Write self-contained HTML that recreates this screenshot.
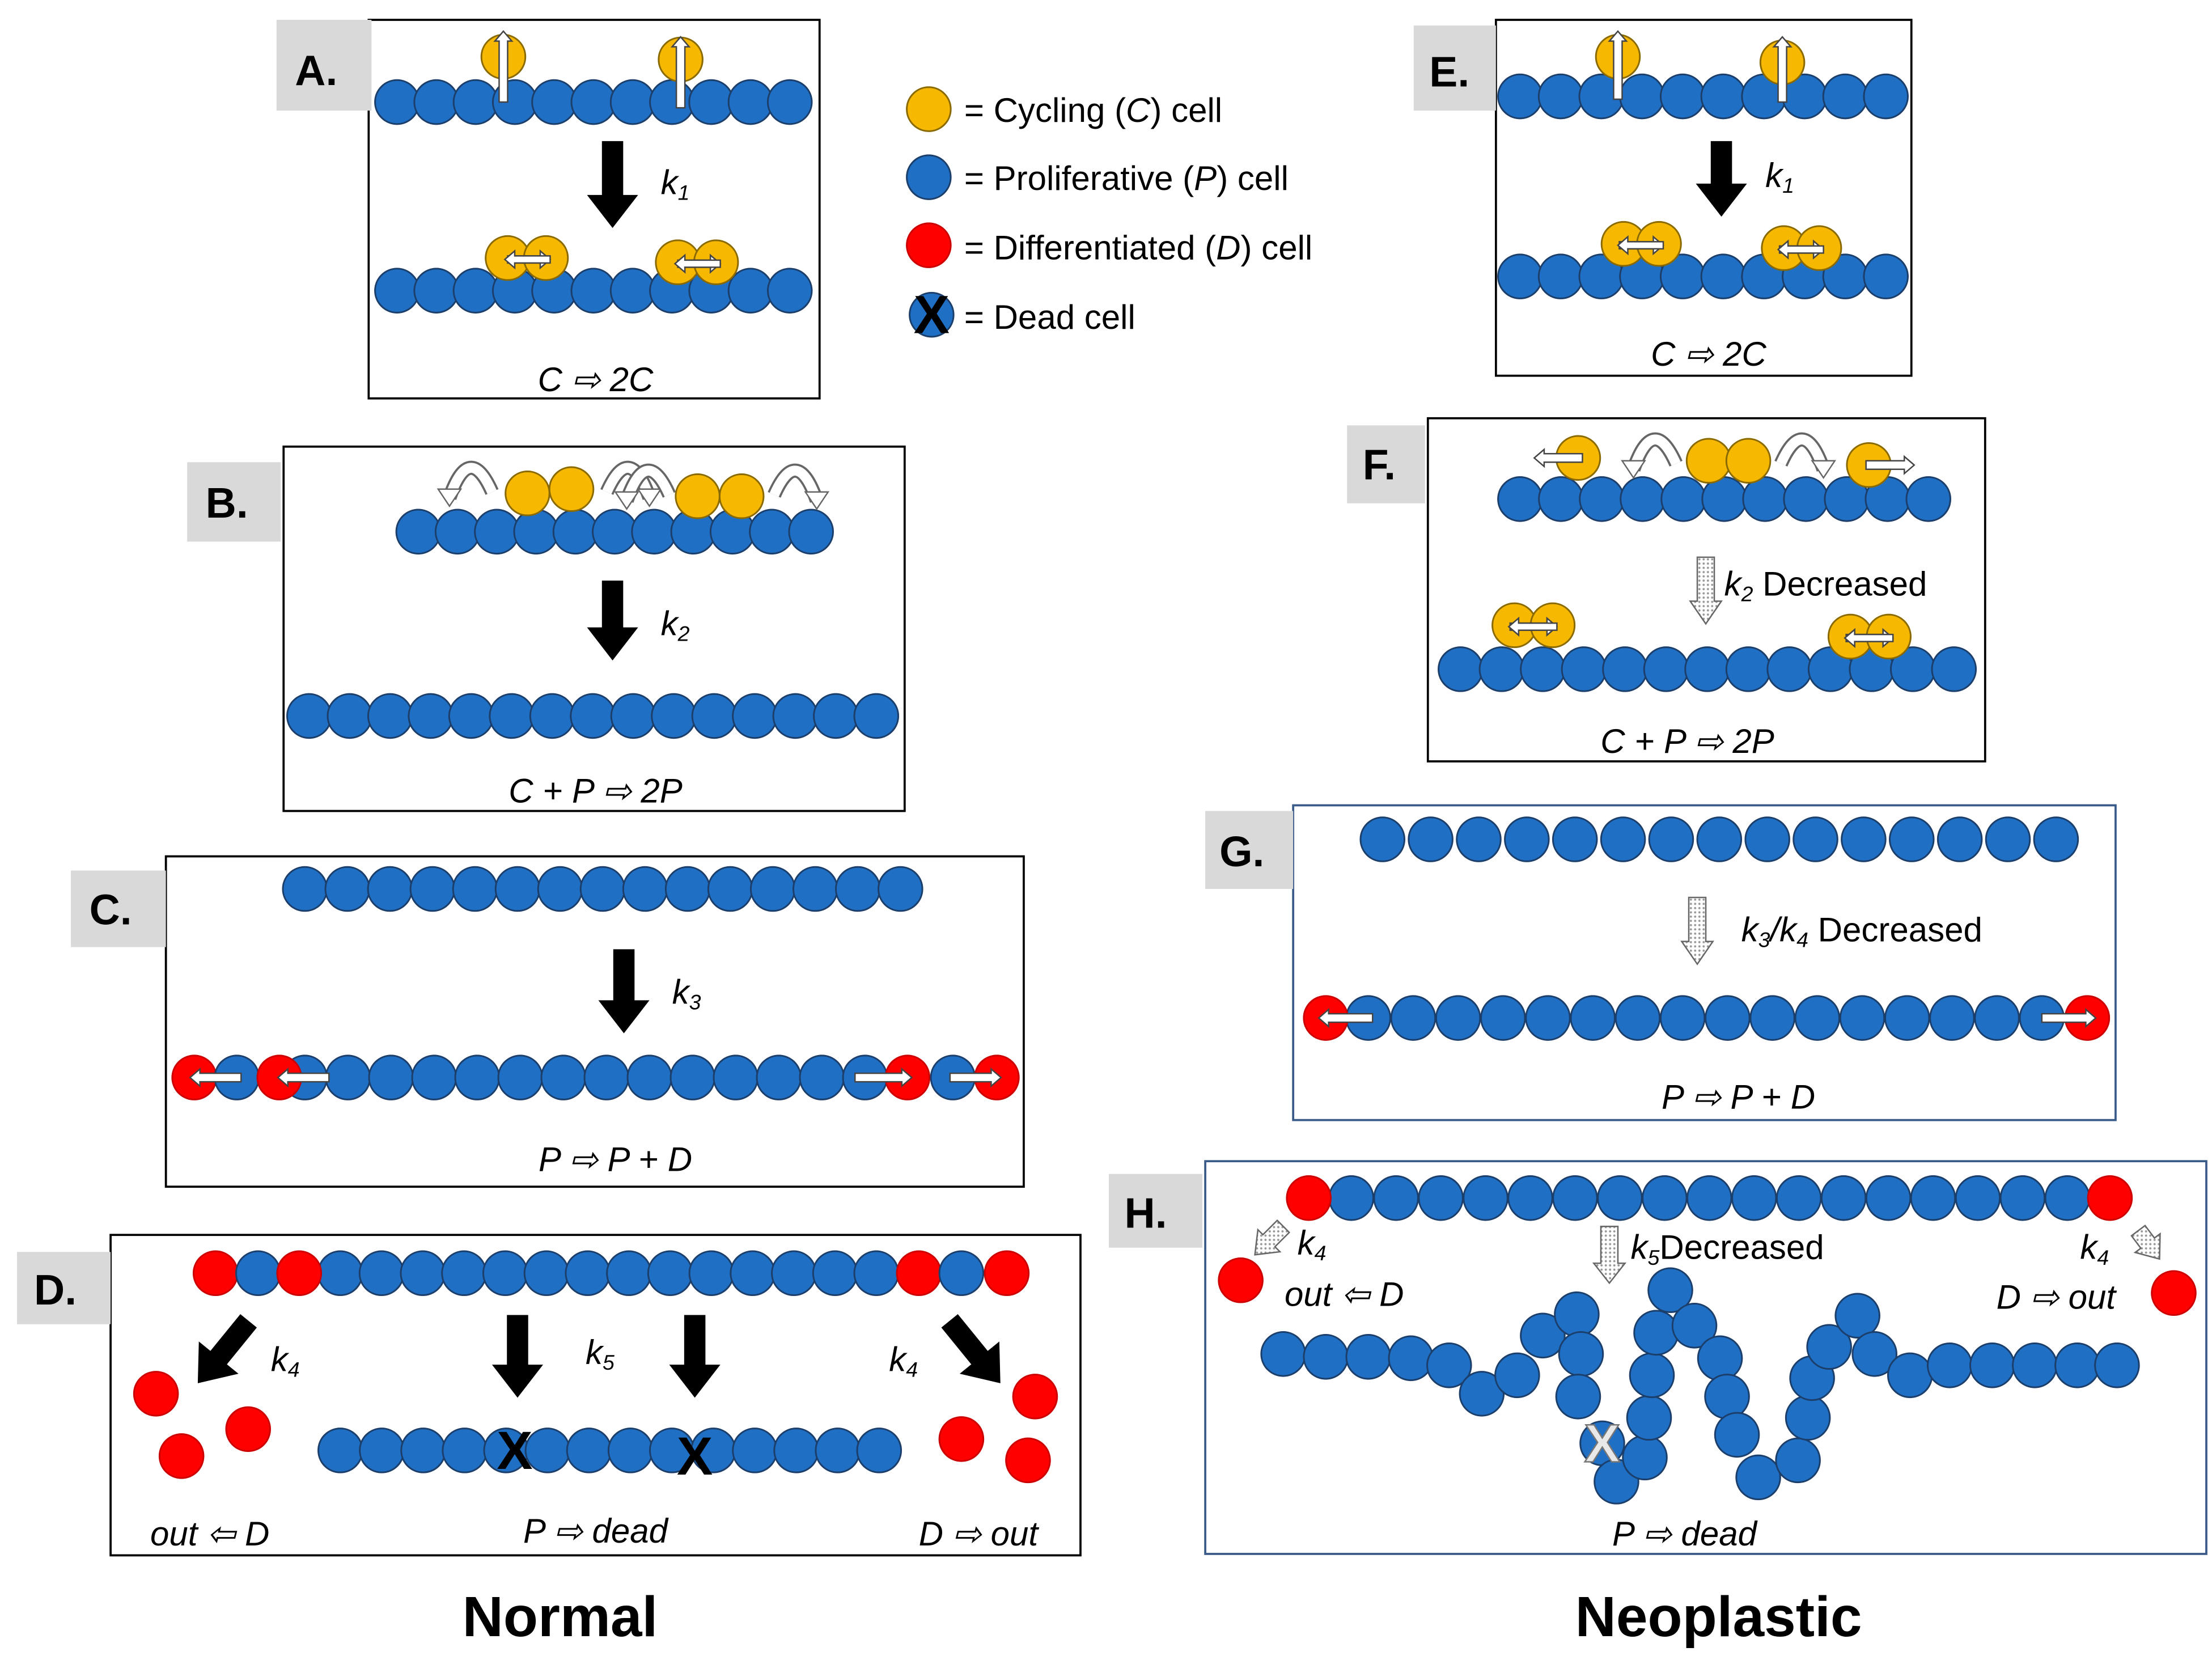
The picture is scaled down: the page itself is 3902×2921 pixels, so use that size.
<!DOCTYPE html>
<html><head><meta charset="utf-8"><style>
html,body{margin:0;padding:0;background:#fff}
svg{display:block}
text{font-family:"Liberation Sans",sans-serif;fill:#000}
.it{font-style:italic;font-size:24px}
.lab{font-weight:bold;font-size:30px}
</style></head><body>
<svg id="s" width="3902" height="2921" viewBox="0 0 1560 1168" preserveAspectRatio="none" xmlns="http://www.w3.org/2000/svg">
<defs>
<pattern id="dot" width="3" height="3" patternUnits="userSpaceOnUse"><rect width="3" height="3" fill="#fff"/><circle cx="1.5" cy="1.5" r="0.8" fill="#999"/></pattern>
</defs>
<g fill="none" stroke="#000" stroke-width="1.5">
<rect x="260" y="14" width="318" height="267"/>
<rect x="200" y="315" width="438" height="257"/>
<rect x="117" y="604" width="605" height="233"/>
<rect x="78" y="871" width="684" height="226"/>
<rect x="1055" y="14" width="293" height="251"/>
<rect x="1007" y="295" width="393" height="242"/>
<rect x="912" y="568" width="580" height="222" stroke="#3a5a8a"/>
<rect x="850" y="819" width="706" height="277" stroke="#3a5a8a"/>
</g>
<g fill="#d9d9d9">
<rect x="195" y="14" width="67" height="64"/><rect x="132" y="326" width="66" height="56"/>
<rect x="50" y="614" width="67" height="54"/><rect x="12" y="883" width="66" height="51"/>
<rect x="997" y="18" width="58" height="60"/><rect x="950" y="300" width="55" height="55"/>
<rect x="850" y="572" width="62" height="55"/><rect x="782" y="828" width="66" height="52"/>
</g>
<g class="lab">
<text x="208" y="60">A.</text><text x="145" y="365">B.</text><text x="63" y="652">C.</text><text x="24" y="920">D.</text>
<text x="1008" y="61">E.</text><text x="961" y="338">F.</text><text x="860" y="611">G.</text><text x="793" y="866">H.</text>
</g>
<g id="cells"></g>
<g font-size="24">
<text x="680" y="86">= Cycling (<tspan font-style="italic">C</tspan>) cell</text>
<text x="680" y="134">= Proliferative (<tspan font-style="italic">P</tspan>) cell</text>
<text x="680" y="183">= Differentiated (<tspan font-style="italic">D</tspan>) cell</text>
<text x="680" y="232">= Dead cell</text>
</g>
<g class="it" text-anchor="middle">
<text x="420" y="276">C ⇨ 2C</text>
<text x="420" y="566">C + P ⇨ 2P</text>
<text x="434" y="826">P ⇨ P + D</text>
<text x="148" y="1090">out ⇦ D</text>
<text x="420" y="1088">P ⇨ dead</text>
<text x="690" y="1090">D ⇨ out</text>
<text x="1205" y="258">C ⇨ 2C</text>
<text x="1190" y="531">C + P ⇨ 2P</text>
<text x="1226" y="782">P ⇨ P + D</text>
<text x="948" y="921">out ⇦ D</text>
<text x="1450" y="923">D ⇨ out</text>
<text x="1188" y="1090">P ⇨ dead</text>
</g>
<g class="it">
<text x="466" y="137">k<tspan font-size="15" dy="4">1</tspan></text>
<text x="466" y="448">k<tspan font-size="15" dy="4">2</tspan></text>
<text x="474" y="708">k<tspan font-size="15" dy="4">3</tspan></text>
<text x="191" y="967">k<tspan font-size="15" dy="4">4</tspan></text>
<text x="413" y="962">k<tspan font-size="15" dy="4">5</tspan></text>
<text x="627" y="967">k<tspan font-size="15" dy="4">4</tspan></text>
<text x="1245" y="132">k<tspan font-size="15" dy="4">1</tspan></text>
<text x="1216" y="420">k<tspan font-size="15" dy="4">2</tspan><tspan font-style="normal" dy="-4"> Decreased</tspan></text>
<text x="1228" y="664">k<tspan font-size="15" dy="4">3</tspan><tspan dy="-4">/k</tspan><tspan font-size="15" dy="4">4</tspan><tspan font-style="normal" dy="-4"> Decreased</tspan></text>
<text x="1150" y="888">k<tspan font-size="15" dy="4">5</tspan><tspan font-style="normal" dy="-4">Decreased</tspan></text>
<text x="915" y="885">k<tspan font-size="15" dy="4">4</tspan></text>
<text x="1467" y="888">k<tspan font-size="15" dy="4">4</tspan></text>
</g>
<g font-weight="bold" font-size="40" text-anchor="middle">
<text x="395" y="1154">Normal</text><text x="1212" y="1154">Neoplastic</text>
</g>
</svg>
<script>
const g=document.getElementById('cells');const NS='http://www.w3.org/2000/svg';
function el(t,a){const e=document.createElementNS(NS,t);for(const k in a)e.setAttribute(k,a[k]);g.appendChild(e);return e;}
const B='#1f6fc5',Y='#f6b800',R='#ff0000';
function c(x,y,f,r){el('circle',{cx:x,cy:y,r:r||15.5,fill:f,stroke:f==R?'#c00':(f==Y?'#8a6a00':'#1b3e6a'),'stroke-width':1.2});}
function row(x0,x1,n,y){for(let i=0;i<n;i++)c(x0+(x1-x0)*i/(n-1),y,B);}
function wa(x1,y1,x2,y2,w){
 const dx=x2-x1,dy=y2-y1,L=Math.hypot(dx,dy),ux=dx/L,uy=dy/L,px=-uy,py=ux;w=w||3;const h=7,hw=6;
 const bx=x2-ux*h,by=y2-uy*h;
 const p=[[x1+px*w,y1+py*w],[bx+px*w,by+py*w],[bx+px*hw,by+py*hw],[x2,y2],[bx-px*hw,by-py*hw],[bx-px*w,by-py*w],[x1-px*w,y1-py*w]];
 el('polygon',{points:p.map(q=>q.join(',')).join(' '),fill:'#fff',stroke:'#444','stroke-width':1});}
function ba(x1,y1,x2,y2,fill,w,hw,h){const dx=x2-x1,dy=y2-y1,L=Math.hypot(dx,dy),ux=dx/L,uy=dy/L,px=-uy,py=ux;
 w=w||7;hw=hw||17;h=h||22;const bx=x2-ux*h,by=y2-uy*h;
 const p=[[x1+px*w,y1+py*w],[bx+px*w,by+py*w],[bx+px*hw,by+py*hw],[x2,y2],[bx-px*hw,by-py*hw],[bx-px*w,by-py*w],[x1-px*w,y1-py*w]];
 el('polygon',{points:p.map(q=>q.join(',')).join(' '),fill:fill||'#000',stroke:fill?'#666':'#000','stroke-width':1});}
function X(x,y,col){const t=el('text',{x:x,y:y+13,'text-anchor':'middle','font-size':38,'font-weight':'bold'});t.textContent='X';t.style.fill=col||'#000';if(col){t.style.stroke='#777';t.style.strokeWidth='1';}}
function hop(x,y,dir){const d=`M${x-dir*2},${y-8} Q${x+dir*14},${y-44} ${x+dir*28},${y-4}`;
 el('path',{d:d,fill:'none',stroke:'#666','stroke-width':10});el('path',{d:d,fill:'none',stroke:'#fff','stroke-width':7});
 const ex=x+dir*28,ey=y-4;el('polygon',{points:`${ex-8},${ey-6} ${ex+8},${ey-6} ${ex},${ey+6}`,fill:'#fff',stroke:'#666','stroke-width':1});}
// A
row(280,557,11,72);c(355,40,Y);c(480,42,Y);wa(355,72,355,22);wa(480,76,480,26);
row(280,557,11,205);c(358,182,Y);c(385,182,Y);c(478,185,Y);c(505,185,Y);wa(358,183,388,183,2.5);wa(388,183,356,183,2.5);wa(478,186,508,186,2.5);wa(508,186,476,186,2.5);
ba(432,100,432,160);
// legend
c(655,77,Y);c(655,125,B);c(655,173,R);c(657,222,B);X(657,222);
// B
row(295,572,11,375);hop(345,355,-1);hop(430,355,1);hop(470,357,-1);hop(548,357,1);c(372,348,Y);c(403,345,Y);c(492,350,Y);c(523,350,Y);
row(218,618,15,505);ba(432,410,432,465);
// C
row(215,635,15,627);ba(440,670,440,728);
row(215,610,14,760);c(137,760,R);c(167,760,B);c(197,760,R);c(640,760,R);c(672,760,B);c(703,760,R);
wa(170,760,134,760);wa(232,760,196,760);wa(603,760,643,760);wa(670,760,706,760);
// D
row(240,618,14,898);c(152,898,R);c(182,898,B);c(211,898,R);c(648,898,R);c(678,898,B);c(710,898,R);
ba(175,932,140,975);ba(365,928,365,985);ba(490,928,490,985);ba(670,932,705,975);
c(110,983,R);c(175,1008,R);c(128,1027,R);c(730,985,R);c(678,1015,R);c(725,1030,R);
row(240,620,14,1023);X(363,1023);X(490,1027);
// E
row(1072,1330,10,68);c(1141,40,Y);c(1257,44,Y);wa(1141,70,1141,22);wa(1257,72,1257,26);
row(1072,1330,10,195);c(1145,172,Y);c(1170,172,Y);c(1258,175,Y);c(1283,175,Y);
wa(1142,173,1173,173,2.5);wa(1173,173,1141,173,2.5);wa(1255,176,1286,176,2.5);wa(1286,176,1254,176,2.5);
ba(1214,100,1214,152);
// F
row(1072,1360,11,352);hop(1180,335,-1);hop(1258,335,1);
c(1113,323,Y);c(1205,325,Y);c(1233,325,Y);c(1318,328,Y);wa(1116,323,1082,323);wa(1316,328,1350,328);
ba(1203,393,1203,440,'url(#dot)',6,11,16);
row(1030,1378,13,472);c(1068,441,Y);c(1095,441,Y);c(1305,449,Y);c(1332,449,Y);
wa(1065,442,1098,442,2.5);wa(1098,442,1064,442,2.5);wa(1302,450,1335,450,2.5);wa(1335,450,1301,450,2.5);
// G
row(975,1450,15,592);ba(1197,633,1197,680,'url(#dot)',6,11,16);
row(965,1440,16,718);c(935,718,R);c(1472,718,R);wa(968,718,930,718);wa(1440,718,1478,718);
// H
row(953,1458,17,845);c(923,845,R);c(1488,845,R);
ba(905,865,885,885,'url(#dot)',6,11,14);ba(1135,865,1135,905,'url(#dot)',6,11,14);ba(1508,868,1523,888,'url(#dot)',6,11,14);
c(875,903,R);c(1533,912,R);
const W=[[905,955],[935,957],[965,957],[995,958],[1022,963],[1045,983],[1070,970],[1088,942],[1112,927],[1115,955],[1113,985],[1130,1018],[1140,1045],[1160,1028],[1163,1000],[1165,970],[1168,940],[1178,910],[1195,935],[1213,958],[1218,985],[1225,1012],[1240,1042],[1268,1030],[1275,1000],[1278,972],[1290,950],[1310,928],[1322,955],[1347,970],[1375,963],[1405,963],[1435,963],[1465,963],[1493,963]];
W.forEach(p=>c(p[0],p[1],B));X(1130,1018,'#e8e8e8');
</script>
</body></html>
